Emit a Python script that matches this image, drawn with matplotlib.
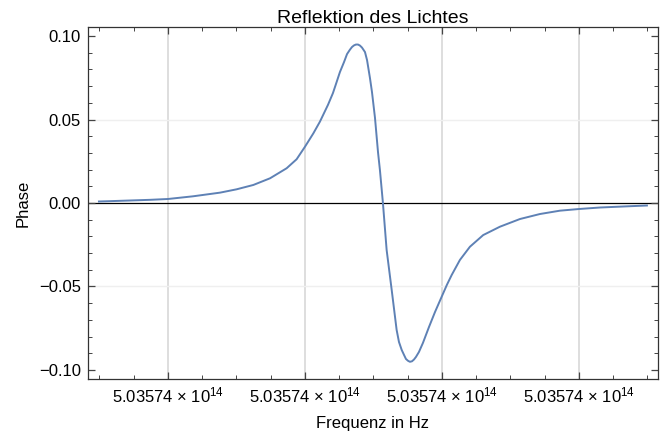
import matplotlib
matplotlib.use("Agg")
from matplotlib import pyplot as plt
from matplotlib.ticker import MultipleLocator

plt.rcParams['font.family'] = ['Liberation Sans', 'DejaVu Sans']
plt.rcParams['mathtext.default'] = 'regular'

# frequency in units of the major tick spacing, phase in rad
freq = [-0.504, -0.423, -0.277, -0.131, 0.0, 0.182, 0.380, 0.501, 0.623, 0.745,
        0.866, 0.939, 1.0, 1.061, 1.109, 1.168, 1.204, 1.226, 1.255, 1.285,
        1.307, 1.328, 1.343, 1.358, 1.372, 1.387, 1.401, 1.416, 1.438, 1.453,
        1.474, 1.489, 1.511, 1.533, 1.547, 1.569, 1.596, 1.633, 1.669, 1.686,
        1.706, 1.723, 1.737, 1.752, 1.766, 1.781, 1.796, 1.810, 1.832, 1.861,
        1.905, 1.949, 1.998, 2.036, 2.071, 2.131, 2.204, 2.301, 2.423, 2.569,
        2.715, 2.861, 3.0, 3.153, 3.350, 3.496]
phase = [0.0009, 0.0011, 0.0015, 0.0019, 0.0024, 0.0040, 0.0062, 0.0082, 0.0108, 0.0148,
         0.0208, 0.0262, 0.0337, 0.0417, 0.0487, 0.0588, 0.0658, 0.0712, 0.0784, 0.0844,
         0.0892, 0.0918, 0.0934, 0.0944, 0.0949, 0.0949, 0.0943, 0.0931, 0.0904, 0.0856,
         0.0750, 0.0665, 0.0510, 0.0305, 0.0198, 0.0, -0.0281, -0.0521, -0.0760, -0.0832,
         -0.0880, -0.0910, -0.0934, -0.0945, -0.0951, -0.0948, -0.0937, -0.0922, -0.0892, -0.0838,
         -0.0743, -0.0653, -0.0561, -0.0490, -0.0431, -0.0341, -0.0262, -0.0192, -0.0142, -0.0096,
         -0.0066, -0.0046, -0.0036, -0.0027, -0.0020, -0.0015]

tick_pos = [0, 1, 2, 3]
tick_labels = ["5.03574 \u00d7 10$^{14}$"] * 4


def main():
    fig = plt.figure(figsize=(6.65, 4.32), dpi=100)
    ax = fig.add_axes([0.1323, 0.1227, 0.8572, 0.8148])

    for x in tick_pos:
        ax.axvline(x, color='#d8d8d8', lw=1.2, zorder=0)
    for y in [-0.05, 0.05]:
        ax.axhline(y, color='#efefef', lw=1.0, zorder=0)
    ax.axhline(0, color='black', lw=0.9, zorder=1)

    ax.plot(freq, phase, color='#5E81B5', lw=1.4, zorder=2,
            solid_joinstyle='round')

    ax.set_xlim(-0.584, 3.577)
    ax.set_ylim(-0.1054, 0.1054)
    ax.set_xticks(tick_pos)
    ax.set_xticklabels(tick_labels)
    ax.xaxis.set_minor_locator(MultipleLocator(0.25))
    ax.set_yticks([-0.10, -0.05, 0.0, 0.05, 0.10])
    ax.set_yticklabels(["\u22120.10", "\u22120.05", "0.00", "0.05", "0.10"])
    ax.yaxis.set_minor_locator(MultipleLocator(0.01))

    ax.tick_params(which='both', direction='in', top=True, right=True,
                   labelsize=12, color='#444444')
    ax.tick_params(which='major', length=5, width=0.9, pad=5)
    ax.tick_params(which='minor', length=3, width=0.7)
    for s in ax.spines.values():
        s.set_color('#333333')
        s.set_linewidth(0.9)

    ax.set_title("Reflektion des Lichtes", fontsize=14, pad=3)
    ax.set_xlabel("Frequenz in Hz", fontsize=12, labelpad=7)
    ax.set_ylabel("Phase", fontsize=12, labelpad=6)

    fig.savefig("out.png", dpi=100)


if __name__ == "__main__":
    main()
